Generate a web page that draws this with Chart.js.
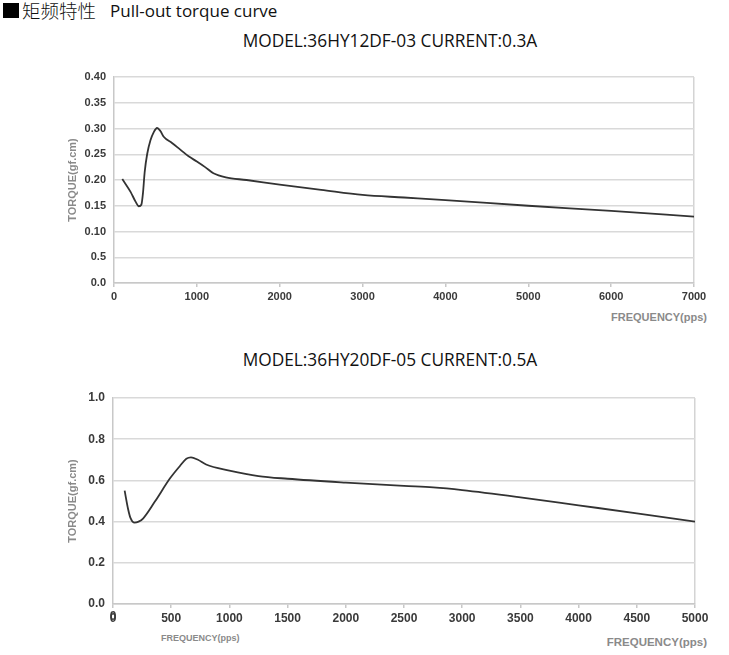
<!DOCTYPE html>
<html>
<head>
<meta charset="utf-8">
<script src="https://cdn.jsdelivr.net/npm/chart.js@4.4.1/dist/chart.umd.min.js"></script>
<style>
  html, body { margin: 0; padding: 0; background: #fff; }
  body { width: 729px; height: 655px; position: relative; overflow: hidden; font-family: "Liberation Sans", Arial, sans-serif; }
  .abs { position: absolute; white-space: nowrap; }
  #sq { left: 3px; top: 3px; width: 16px; height: 15px; background: #000; }
  #cn { left: 22px; top: -1px; font-family: "Noto Sans CJK SC", sans-serif; font-weight: 300; font-size: 18.5px; color: #111; line-height: 22px; }
  #en { left: 110px; top: 0px; font-family: "Open Sans", sans-serif; font-size: 17px; color: #111; line-height: 22px; }
  .model { font-family: "Open Sans", sans-serif; font-size: 17.3px; color: #111; width: 680px; text-align: center; left: 50px; line-height: 22px; }
  .freq { font-family: "Liberation Sans", Arial, sans-serif; font-weight: bold; color: #8a8a8a; line-height: 13px; }
  .wrap { position: absolute; left: 0; width: 729px; z-index: 2; }
</style>
</head>
<body>
<div id="sq" class="abs" aria-hidden="true"></div>
<div id="cn" class="abs">矩频特性</div>
<div id="en" class="abs">Pull-out torque curve</div>
<div class="abs model" style="top:30px;">MODEL:36HY12DF-03 CURRENT:0.3A</div>
<div class="abs model" style="top:349px;">MODEL:36HY20DF-05 CURRENT:0.5A</div>
<div class="abs freq" style="right:22px;top:311px;font-size:11px;">FREQUENCY(pps)</div>
<div class="abs freq" style="left:161px;top:632px;font-size:9px;">FREQUENCY(pps)</div>
<div class="abs freq" style="right:22px;top:636px;font-size:11.5px;">FREQUENCY(pps)</div>

<div class="wrap" style="top:60px;height:250px;"><canvas id="c1" width="729" height="250"></canvas></div>
<div class="wrap" style="top:380px;height:250px;"><canvas id="c2" width="729" height="250"></canvas></div>

<script>
// ---- Data ----
const freq1   = [100, 200, 260, 300, 330, 350, 370, 400, 440, 480, 520, 560, 600, 700, 800, 900, 1000, 1100, 1200, 1350, 1600, 2000, 2500, 3000, 3500, 4000, 5000, 6000, 7000];
const torque1 = [0.202, 0.177, 0.158, 0.149, 0.152, 0.175, 0.215, 0.250, 0.277, 0.293, 0.301, 0.295, 0.284, 0.272, 0.259, 0.246, 0.236, 0.225, 0.213, 0.205, 0.200, 0.191, 0.181, 0.171, 0.166, 0.161, 0.150, 0.140, 0.129];
const yTickLabels1 = ['0.0', '0.5', '0.10', '0.15', '0.20', '0.25', '0.30', '0.35', '0.40'];
const xTickStep1 = 1000;

const freq2   = [100, 130, 150, 185, 220, 260, 360, 490, 575, 630, 670, 730, 800, 1000, 1250, 1500, 2000, 2500, 2750, 3000, 3500, 4000, 4500, 5000];
const torque2 = [0.550, 0.460, 0.418, 0.395, 0.400, 0.416, 0.497, 0.610, 0.670, 0.705, 0.712, 0.700, 0.677, 0.648, 0.621, 0.608, 0.589, 0.573, 0.566, 0.553, 0.518, 0.479, 0.440, 0.400];
const yTickLabels2 = ['0.0', '0.2', '0.4', '0.6', '0.8', '1.0'];
const xTickStep2 = 500;

// Safety: re-draw the first x tick label (same font, same place) in case it was dropped
const firstXLabel = {
  id: 'firstXLabel',
  afterDraw(chart, args, opts) {
    if (!opts || !opts.enabled) return;
    const s = chart.scales.x;
    if (!s || !s.ticks.length) return;
    const t = s.ticks[0];
    const ctx = chart.ctx;
    ctx.save();
    ctx.font = 'bold ' + opts.size + 'px "Liberation Sans"';
    ctx.fillStyle = '#3a3a3a';
    ctx.textAlign = 'center';
    ctx.textBaseline = 'top';
    ctx.fillText(String(t.label), s.getPixelForValue(t.value), s.top + 4 + 3);
    ctx.restore();
  }
};

function makeChart(id, xs, ys, cfg) {
  const pts = xs.map((x, i) => ({ x: x, y: ys[i] }));
  return new Chart(document.getElementById(id), {
    type: 'line',
    data: { datasets: [{ data: pts, borderColor: '#333', borderWidth: 1.8, pointRadius: 0, cubicInterpolationMode: 'monotone' }] },
    plugins: [firstXLabel],
    options: {
      responsive: false,
      animation: false,
      events: [],
      layout: { padding: cfg.padding },
      plugins: { legend: { display: false }, tooltip: { enabled: false }, firstXLabel: { enabled: cfg.fixFirst, size: cfg.tickSize } },
      scales: {
        x: {
          type: 'linear',
          min: 0, max: cfg.xMax,
          afterFit: (s) => { s.height = cfg.xHeight; },
          ticks: {
            stepSize: cfg.xStep, maxTicksLimit: 30,
            color: '#3a3a3a', font: { family: 'Liberation Sans', size: cfg.tickSize, weight: 'bold' }, padding: 3, maxRotation: 0, autoSkip: false,
            callback: (v) => String(Math.round(v))
          },
          grid: {
            drawOnChartArea: true,
            color: (c) => (c.tick && c.tick.value === cfg.xMax) ? '#d4d4d4' : 'rgba(0,0,0,0)',
            lineWidth: 1.5,
            tickColor: '#c8c8c8', tickLength: 4, drawTicks: true
          },
          border: { display: true, color: '#c8c8c8', width: 1.5 }
        },
        y: {
          type: 'linear',
          min: 0, max: cfg.yMax,
          afterBuildTicks: (s) => { s.ticks = cfg.yLabels.map((l, i) => ({ value: i * cfg.yStep })); },
          afterFit: (s) => { s.width = cfg.yWidth; },
          ticks: {
            color: '#3a3a3a', font: { family: 'Liberation Sans', size: cfg.tickSize, weight: 'bold' }, padding: 8,
            callback: (v, i) => cfg.yLabels[i]
          },
          grid: { color: '#d9d9d9', lineWidth: 1.5, drawTicks: false },
          border: { display: true, color: '#c8c8c8', width: 1.5 },
          title: { display: true, text: 'TORQUE(gf.cm)', color: '#8a8a8a', font: { family: 'Liberation Sans', size: 11, weight: 'bold' }, padding: { top: 6, bottom: 0 } }
        }
      }
    }
  });
}

makeChart('c1', freq1, torque1, {
  padding: { left: 60, right: 35, top: 17, bottom: 0 },
  xMax: 7000, xStep: xTickStep1, xHeight: 27, fixFirst: false,
  yMax: 0.40, yStep: 0.05, yLabels: yTickLabels1, yWidth: 54, tickSize: 11
});
makeChart('c2', freq2, torque2, {
  padding: { left: 60, right: 34, top: 18, bottom: 0 },
  xMax: 5000, xStep: xTickStep2, xHeight: 26, fixFirst: true,
  yMax: 1.0, yStep: 0.2, yLabels: yTickLabels2, yWidth: 53, tickSize: 12
});
</script>
</body>
</html>
